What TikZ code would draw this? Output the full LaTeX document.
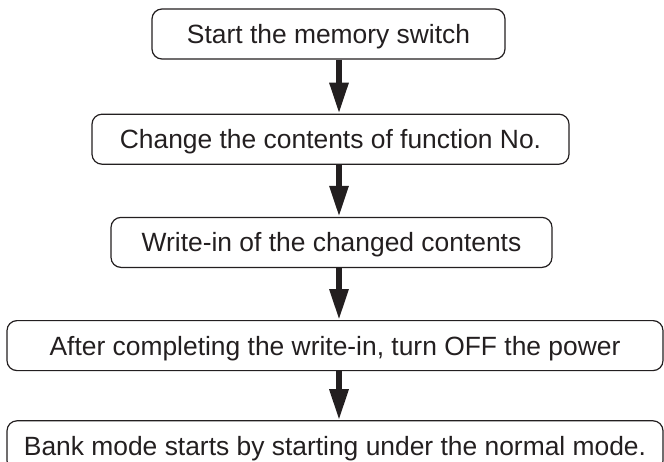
\documentclass[tikz,border=0pt]{standalone}
\usepackage{fontspec}
\setmainfont{Liberation Sans}
\usetikzlibrary{arrows.meta, positioning}
\definecolor{inkgray}{HTML}{231F20}

\begin{document}
\begin{tikzpicture}[
    x=1pt, y=1pt,
    node distance=52pt,
    stepbox/.style={rectangle, draw=inkgray, line width=1.2pt, minimum height=50pt, inner sep=0pt, text height=19pt, text depth=0pt, align=center, rounded corners=10pt, text=inkgray, font=\fontsize{26.4}{30}\selectfont},
    flow/.style={-{Triangle[length=31pt, width=18pt]}, line width=6pt, draw=inkgray}
]
\useasboundingbox (0,0) rectangle (664,-461);

% Nodes
\node[stepbox, minimum width=353pt] (start) at (328.5,-34) {Start the memory switch};
\node[stepbox, minimum width=477pt, below=54pt of start, xshift=2pt] (change) {Change the contents of function No.};
\node[stepbox, minimum width=441pt, below=of change, xshift=1pt] (write) {Write-in of the changed contents};
\node[stepbox, minimum width=656pt, below=of write, xshift=3.5pt] (poweroff) {After completing the write-in, turn OFF the power};
\node[stepbox, minimum width=656pt, below=49pt of poweroff] (bank) {Bank mode starts by starting under the normal mode.};

% Arrows
\coordinate (axis) at (339,0);
\draw[flow] (start.south -| axis) -- (change.north -| axis);
\draw[flow] (change.south -| axis) -- (write.north -| axis);
\draw[flow] (write.south -| axis) -- (poweroff.north -| axis);
\draw[flow] (poweroff.south -| axis) -- (bank.north -| axis);

\end{tikzpicture}
\end{document}
